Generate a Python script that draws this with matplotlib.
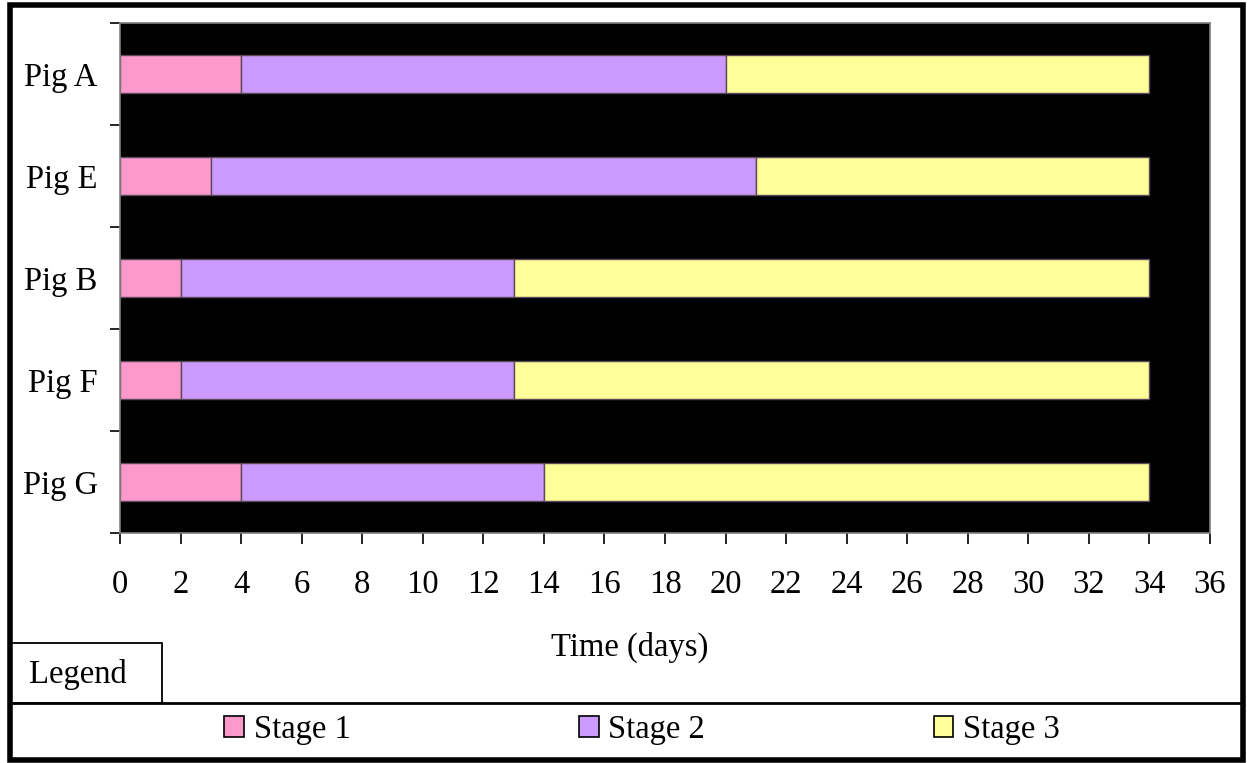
import matplotlib.pyplot as plt
from matplotlib.patches import Rectangle, Patch
from matplotlib.lines import Line2D

plt.rcParams['font.family'] = ['Liberation Serif', 'DejaVu Serif']

# days spent in each stage, top row first
pigs = ['Pig A', 'Pig E', 'Pig B', 'Pig F', 'Pig G']
stage1 = [4, 3, 2, 2, 4]
stage2 = [16, 18, 11, 11, 10]
stage3 = [14, 13, 21, 21, 20]
stages = ['Stage 1', 'Stage 2', 'Stage 3']
colors = ['#FF99CC', '#CC99FF', '#FFFF99']
xticks = list(range(0, 37, 2))

FS = 23.5
W, H = 1247, 763
fig = plt.figure(figsize=(W / 100, H / 100), dpi=100)
ax = fig.add_axes([120 / W, 1 - 533 / H, 1090 / W, 510 / H])
ax.set_facecolor('black')

ypos = list(range(len(pigs)))[::-1]
left = [0] * len(pigs)
for vals, col in zip([stage1, stage2, stage3], colors):
    ax.barh(ypos, vals, left=left, height=0.37, color=col,
            edgecolor='#5a4a5a', linewidth=1.0)
    left = [l + v for l, v in zip(left, vals)]

ax.set_xlim(0, 36)
ax.set_ylim(-0.5, len(pigs) - 0.5)
ax.set_xticks(xticks)
ax.set_yticks(ypos)
ax.set_yticklabels(pigs)
ax.set_yticks([i - 0.5 for i in range(len(pigs) + 1)], minor=True)
ax.tick_params(axis='y', which='major', length=0, pad=16, labelsize=FS)
ax.tick_params(axis='y', which='minor', length=7, width=1.2, direction='out')
ax.tick_params(axis='x', length=8, width=1.2, direction='out', pad=18,
               labelsize=FS)
for s in ax.spines.values():
    s.set_color('#808080')
    s.set_linewidth(1.2)

ax.set_xlabel('Time (days)', fontsize=FS)
ax.xaxis.set_label_coords(510 / 1090, -(647 - 533) / 510)
ax.xaxis.label.set_va('center')

# outer frame and legend strip
fig.add_artist(Rectangle((10 / W, 3 / H), 1233 / W, 755 / H,
                         transform=fig.transFigure, fill=False,
                         edgecolor='black', linewidth=4))
fig.add_artist(Line2D([10 / W, 1243 / W], [1 - 703 / H, 1 - 703 / H],
                      transform=fig.transFigure, color='black', linewidth=2))
fig.add_artist(Rectangle((11 / W, 1 - 703 / H), 151 / W, 60 / H,
                         transform=fig.transFigure, fill=False,
                         edgecolor='black', linewidth=1.3))
fig.text(29 / W, 1 - 675 / H, 'Legend', fontsize=FS, va='center', ha='left')

handles = [Patch(facecolor=c, edgecolor='black', linewidth=1.2) for c in colors]
fig.legend(handles, stages, loc='center', bbox_to_anchor=(642 / W, 1 - 730 / H),
           ncol=3, frameon=False, fontsize=FS, handlelength=0.6,
           handleheight=0.6, handletextpad=0.3, columnspacing=7.0)

fig.savefig('out.png', dpi=100)
